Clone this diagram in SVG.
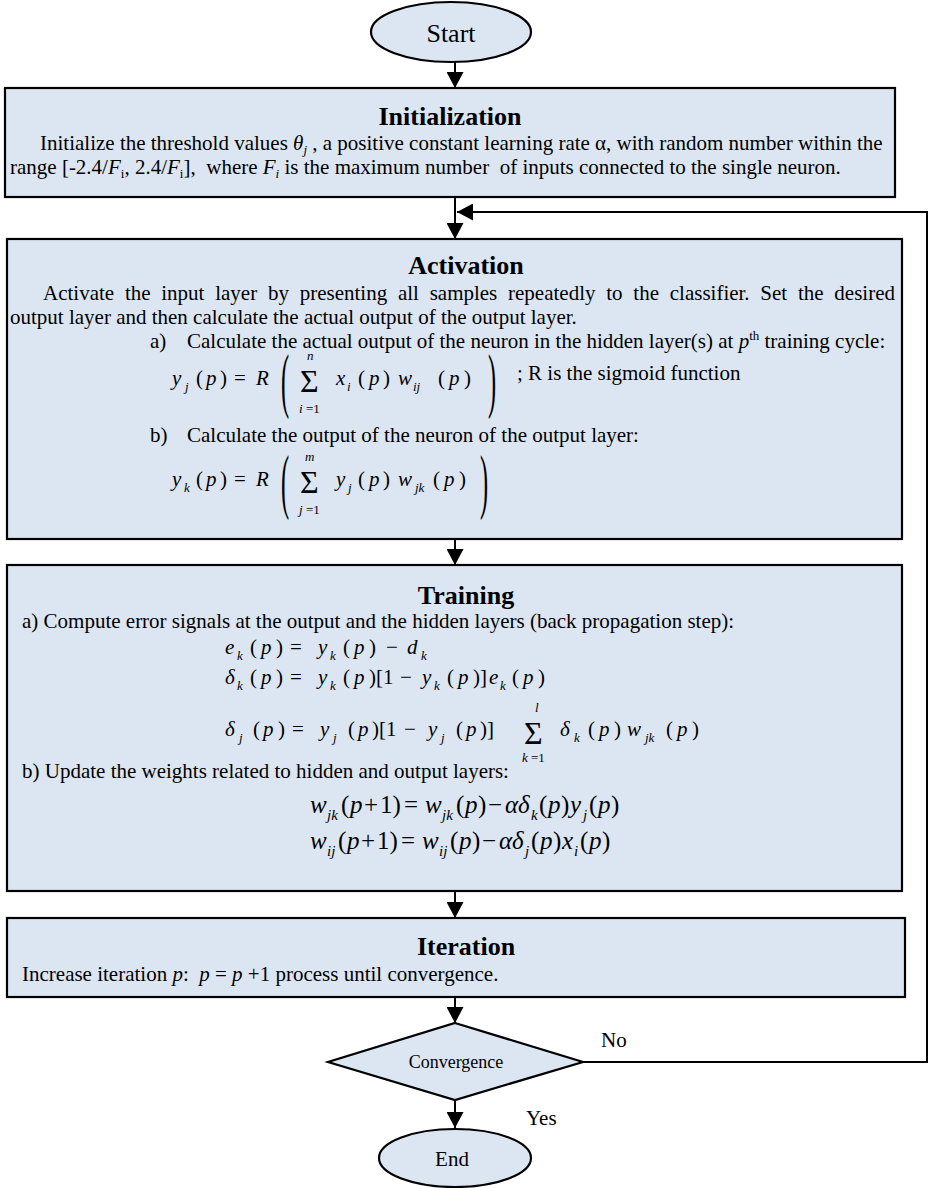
<svg xmlns="http://www.w3.org/2000/svg" width="928" height="1188" viewBox="0 0 928 1188">
<style>
text{font-family:"Liberation Serif","Times New Roman",serif;font-size:21px;fill:#000}
.box{fill:#dce6f2;stroke:#000;stroke-width:2.2}
.h{font-weight:bold;font-size:26px;text-anchor:middle}
.i{font-style:italic}
.s{font-size:13px}
.sw{font-size:15px}
.w{font-size:25px}
.bp{font-size:72px}
.sg{font-size:32px}
.ln{stroke:#000;stroke-width:2;fill:none}
.pre{white-space:pre}
</style>
<defs>
<marker id="ah" markerUnits="userSpaceOnUse" markerWidth="16" markerHeight="17" refX="16" refY="8.5" orient="auto" viewBox="0 0 16 17">
<path d="M0,0 L16,8.5 L0,17 z" fill="#000"/>
</marker>
</defs>

<g id="connectors">
<line class="ln" x1="455" y1="62" x2="455" y2="88" marker-end="url(#ah)"/>
<line class="ln" x1="455" y1="197" x2="455" y2="239" marker-end="url(#ah)"/>
<line class="ln" x1="455" y1="539" x2="455" y2="565" marker-end="url(#ah)"/>
<line class="ln" x1="455" y1="891" x2="455" y2="918" marker-end="url(#ah)"/>
<line class="ln" x1="455" y1="997" x2="455" y2="1023" marker-end="url(#ah)"/>
<line class="ln" x1="455" y1="1100" x2="455" y2="1128" marker-end="url(#ah)"/>
<polyline class="ln" points="583,1062 927,1062 927,212 457,212" marker-end="url(#ah)"/>
<text x="601" y="1047">No</text>
<text x="526" y="1125">Yes</text>
</g>

<g id="start">
<ellipse class="box" cx="451" cy="32" rx="80" ry="30"/>
<text x="451" y="42" style="font-size:26px;text-anchor:middle">Start</text>
</g>

<g id="initialization">
<rect class="box" x="5" y="88" width="890" height="109"/>
<text class="h" x="450" y="125">Initialization</text>
<text class="pre" x="40" y="150">Initialize the threshold values <tspan class="i">θ</tspan><tspan class="i s" dy="4">j</tspan><tspan dy="-4"> , a positive constant learning rate α, with random number within the</tspan></text>
<text class="pre" x="10" y="174">range [-2.4/<tspan class="i">F</tspan><tspan class="s" dy="4">i</tspan><tspan dy="-4">, 2.4/</tspan><tspan class="i">F</tspan><tspan class="s" dy="4">i</tspan><tspan dy="-4">],  where </tspan><tspan class="i">F</tspan><tspan class="i s" dy="4">i</tspan><tspan dy="-4"> is the maximum number  of inputs connected to the single neuron.</tspan></text>
</g>

<g id="activation">
<rect class="box" x="7" y="239" width="895" height="300"/>
<text class="h" x="466" y="274">Activation</text>
<text x="43" y="300" style="word-spacing:5.5px">Activate the input layer by presenting all samples repeatedly to the classifier. Set the desired</text>
<text x="10" y="324">output layer and then calculate the actual output of the output layer.</text>
<text x="150" y="348">a)</text>
<text x="187" y="348">Calculate the actual output of the neuron in the hidden layer(s) at <tspan class="i">p</tspan><tspan class="s" dy="-8">th</tspan><tspan dy="8"> training cycle:</tspan></text>
<text y="385"><tspan class="i" x="172">y</tspan><tspan class="i s" x="185" y="391">j</tspan><tspan x="196" y="385">(</tspan><tspan class="i" x="206">p</tspan><tspan x="220">)</tspan><tspan x="234">=</tspan><tspan class="i" x="256">R</tspan></text>
<text class="bp" transform="translate(281,404) scale(0.34,1)">(</text>
<text class="sg" x="300" y="392">Σ</text>
<text class="i s" x="307" y="360">n</text>
<text class="s" x="299" y="413"><tspan class="i">i</tspan> =1</text>
<text y="385"><tspan class="i" x="336">x</tspan><tspan class="i s" x="347" y="391">i</tspan><tspan x="358" y="385">(</tspan><tspan class="i" x="369">p</tspan><tspan x="383">)</tspan><tspan class="i" x="398">w</tspan><tspan class="i s" x="413" y="391">ij</tspan><tspan x="438" y="385">(</tspan><tspan class="i" x="449">p</tspan><tspan x="464">)</tspan></text>
<text class="bp" transform="translate(488,404) scale(0.34,1)">)</text>
<text x="517" y="380">; R is the sigmoid function</text>
<text x="150" y="442">b)</text>
<text x="187" y="442">Calculate the output of the neuron of the output layer:</text>
<text y="486"><tspan class="i" x="172">y</tspan><tspan class="i s" x="184" y="492">k</tspan><tspan x="196" y="486">(</tspan><tspan class="i" x="206">p</tspan><tspan x="220">)</tspan><tspan x="234">=</tspan><tspan class="i" x="256">R</tspan></text>
<text class="bp" transform="translate(281,505) scale(0.34,1)">(</text>
<text class="sg" x="300" y="493">Σ</text>
<text class="i s" x="305" y="461">m</text>
<text class="s" x="299" y="514"><tspan class="i">j</tspan> =1</text>
<text y="486"><tspan class="i" x="336">y</tspan><tspan class="i s" x="348" y="492">j</tspan><tspan x="358" y="486">(</tspan><tspan class="i" x="369">p</tspan><tspan x="383">)</tspan><tspan class="i" x="398">w</tspan><tspan class="i s" x="415" y="492">jk</tspan><tspan x="433" y="486">(</tspan><tspan class="i" x="444">p</tspan><tspan x="459">)</tspan></text>
<text class="bp" transform="translate(480,505) scale(0.34,1)">)</text>
</g>

<g id="training">
<rect class="box" x="7" y="565" width="895" height="326"/>
<text class="h" x="466" y="604">Training</text>
<text x="22" y="628">a) Compute error signals at the output and the hidden layers (back propagation step):</text>
<text y="654"><tspan class="i" x="225">e</tspan><tspan class="i s" x="237" y="660">k</tspan><tspan x="250" y="654">(</tspan><tspan class="i" x="261">p</tspan><tspan x="276">)</tspan><tspan x="290">=</tspan><tspan class="i" x="318">y</tspan><tspan class="i s" x="330" y="660">k</tspan><tspan x="343" y="654">(</tspan><tspan class="i" x="354">p</tspan><tspan x="369">)</tspan><tspan x="386">−</tspan><tspan class="i" x="407">d</tspan><tspan class="i s" x="421" y="660">k</tspan></text>
<text y="684"><tspan class="i" x="225">δ</tspan><tspan class="i s" x="237" y="690">k</tspan><tspan x="250" y="684">(</tspan><tspan class="i" x="261">p</tspan><tspan x="276">)</tspan><tspan x="290">=</tspan><tspan class="i" x="318">y</tspan><tspan class="i s" x="330" y="690">k</tspan><tspan x="343" y="684">(</tspan><tspan class="i" x="354">p</tspan><tspan x="369">)[1</tspan><tspan x="400">−</tspan><tspan class="i" x="422">y</tspan><tspan class="i s" x="434" y="690">k</tspan><tspan x="447" y="684">(</tspan><tspan class="i" x="458">p</tspan><tspan x="473">)]</tspan><tspan class="i" x="489">e</tspan><tspan class="i s" x="500" y="690">k</tspan><tspan x="512" y="684">(</tspan><tspan class="i" x="523">p</tspan><tspan x="538">)</tspan></text>
<text y="736"><tspan class="i" x="225">δ</tspan><tspan class="i s" x="239" y="742">j</tspan><tspan x="253" y="736">(</tspan><tspan class="i" x="263">p</tspan><tspan x="278">)</tspan><tspan x="292">=</tspan><tspan class="i" x="320">y</tspan><tspan class="i s" x="333" y="742">j</tspan><tspan x="348" y="736">(</tspan><tspan class="i" x="358">p</tspan><tspan x="372">)[1</tspan><tspan x="404">−</tspan><tspan class="i" x="428">y</tspan><tspan class="i s" x="441" y="742">j</tspan><tspan x="456" y="736">(</tspan><tspan class="i" x="466">p</tspan><tspan x="480">)]</tspan></text>
<text class="sg" x="524" y="744">Σ</text>
<text class="i s" x="535" y="712">l</text>
<text class="s" x="522" y="762"><tspan class="i">k</tspan> =1</text>
<text y="736"><tspan class="i" x="560">δ</tspan><tspan class="i s" x="574" y="742">k</tspan><tspan x="588" y="736">(</tspan><tspan class="i" x="599">p</tspan><tspan x="614">)</tspan><tspan class="i" x="627">w</tspan><tspan class="i s" x="645" y="742">jk</tspan><tspan x="666" y="736">(</tspan><tspan class="i" x="677">p</tspan><tspan x="692">)</tspan></text>
<text x="22" y="778">b) Update the weights related to hidden and output layers:</text>
<text class="w" y="813"><tspan class="i" x="310">w</tspan><tspan class="i sw" x="327" y="820">jk</tspan><tspan x="341" y="813">(</tspan><tspan class="i" x="350">p</tspan><tspan x="364">+</tspan><tspan x="380">1)</tspan><tspan x="404">=</tspan><tspan class="i" x="425">w</tspan><tspan class="i sw" x="442" y="820">jk</tspan><tspan x="456" y="813">(</tspan><tspan class="i" x="465">p</tspan><tspan x="478">)</tspan><tspan x="488">−</tspan><tspan class="i" x="505">αδ</tspan><tspan class="i sw" x="531" y="820">k</tspan><tspan x="539" y="813">(</tspan><tspan class="i" x="548">p</tspan><tspan x="561">)</tspan><tspan class="i" x="570">y</tspan><tspan class="i sw" x="583" y="820">j</tspan><tspan x="589" y="813">(</tspan><tspan class="i" x="598">p</tspan><tspan x="611">)</tspan></text>
<text class="w" y="849"><tspan class="i" x="310">w</tspan><tspan class="i sw" x="327" y="856">ij</tspan><tspan x="338" y="849">(</tspan><tspan class="i" x="347">p</tspan><tspan x="361">+</tspan><tspan x="377">1)</tspan><tspan x="401">=</tspan><tspan class="i" x="422">w</tspan><tspan class="i sw" x="439" y="856">ij</tspan><tspan x="450" y="849">(</tspan><tspan class="i" x="459">p</tspan><tspan x="472">)</tspan><tspan x="482">−</tspan><tspan class="i" x="499">αδ</tspan><tspan class="i sw" x="525" y="856">j</tspan><tspan x="531" y="849">(</tspan><tspan class="i" x="540">p</tspan><tspan x="553">)</tspan><tspan class="i" x="562">x</tspan><tspan class="i sw" x="574" y="856">i</tspan><tspan x="580" y="849">(</tspan><tspan class="i" x="589">p</tspan><tspan x="602">)</tspan></text>
</g>

<g id="iteration">
<rect class="box" x="7" y="918" width="898" height="79"/>
<text class="h" x="466" y="955">Iteration</text>
<text class="pre" x="22" y="981">Increase iteration <tspan class="i">p</tspan>:  <tspan class="i">p</tspan> = <tspan class="i">p</tspan> +1 process until convergence.</text>
</g>

<g id="convergence">
<polygon class="box" points="455,1023 583,1062 455,1100 328,1062"/>
<text x="456" y="1068" style="font-size:18px;text-anchor:middle">Convergence</text>
</g>

<g id="end">
<ellipse class="box" cx="455" cy="1158" rx="76" ry="29"/>
<text x="452" y="1166" style="text-anchor:middle">End</text>
</g>
</svg>
